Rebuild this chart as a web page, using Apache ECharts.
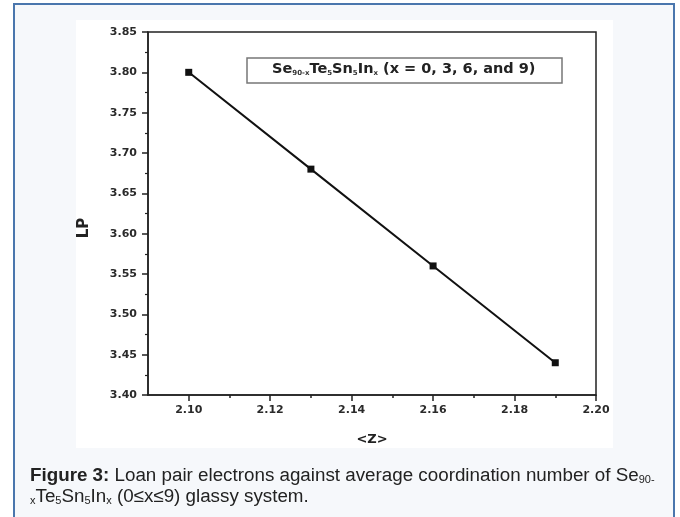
<!DOCTYPE html>
<html><head><meta charset="utf-8">
<script src="https://cdn.jsdelivr.net/npm/echarts@6/dist/echarts.min.js"></script>
<style>html,body{margin:0;padding:0;background:#fff}#c{width:680px;height:517px}</style>
</head><body><div id="c"></div>
<script>
const zValues = [2.10, 2.13, 2.16, 2.19];
const lpValues = [3.80, 3.68, 3.56, 3.44];
const xMajorTicks = [2.10, 2.12, 2.14, 2.16, 2.18, 2.20];
const xMinorTicks = [2.11, 2.13, 2.15, 2.17, 2.19];
const xLabel = '<Z>';
const yLabel = 'LP';

const chart = echarts.init(document.getElementById('c'), null, {renderer: 'canvas'});
const F = 'Liberation Sans, Arial, sans-serif';
const D = 'DejaVu Sans, sans-serif';
const tickFont = {fontFamily: D, fontWeight: 'bold', fontSize: 11, color: '#2a2a2a'};
const sub = {fontFamily: D, fontWeight: 'bold', fontSize: 7, color: '#333', lineHeight: 3, verticalAlign: 'bottom'};
const capSub = {fontFamily: F, fontWeight: 'normal', fontSize: 11, color: '#222', lineHeight: 3, verticalAlign: 'bottom'};

chart.setOption({
  animation: false,
  backgroundColor: '#ffffff',
  graphic: [
    {type: 'rect', z: -10, shape: {x: 14, y: 4, width: 660, height: 540},
     style: {fill: '#f6f8fb', stroke: '#4a76ad', lineWidth: 2}},
    {type: 'rect', z: -9, shape: {x: 76, y: 20, width: 537, height: 428},
     style: {fill: '#ffffff'}}
  ],
  title: [
    {
      left: 247, top: 55,
      padding: [4, 27, 6, 25],
      borderColor: '#777', borderWidth: 1.5, backgroundColor: '#fff',
      text: '{m|Se}{s|90-x}{m|Te}{s|5}{m|Sn}{s|5}{m|In}{s|x}{m| (x = 0, 3, 6, and 9)}',
      textStyle: {
        rich: {
          m: {fontFamily: D, fontWeight: 'bold', fontSize: 14.5, color: '#222', lineHeight: 18, verticalAlign: 'bottom'},
          s: sub
        }
      }
    },
    {
      left: 30, top: 464,
      padding: 0,
      text: '{b|Figure 3:}{n| Loan pair electrons against average coordination number of Se}{s|90-}\n{s|x}{n|Te}{s|5}{n|Sn}{s|5}{n|In}{s|x}{n| (0≤x≤9) glassy system.}',
      textStyle: {
        rich: {
          b: {fontFamily: F, fontWeight: 'bold', fontSize: 18.8, color: '#222', lineHeight: 21, verticalAlign: 'bottom'},
          n: {fontFamily: F, fontWeight: 'normal', fontSize: 18.8, color: '#222', lineHeight: 21, verticalAlign: 'bottom'},
          s: capSub
        }
      }
    }
  ],
  grid: {left: 148, right: 84, top: 32, bottom: 122, show: true, borderColor: '#222', borderWidth: 1.5, backgroundColor: 'transparent'},
  xAxis: [
    {
      type: 'value', min: 2.09, max: 2.20,
      name: xLabel, nameLocation: 'middle', nameGap: 38,
      nameTextStyle: {fontFamily: D, fontWeight: 'bold', fontSize: 13, color: '#222'},
      axisLine: {show: true, lineStyle: {color: '#222', width: 1.5}},
      axisTick: {show: true, inside: false, length: 6, lineStyle: {color: '#222', width: 1.5}, customValues: xMajorTicks},
      axisLabel: {show: true, margin: 10, ...tickFont, customValues: xMajorTicks, formatter: v => v.toFixed(2)},
      splitLine: {show: false}
    },
    {
      type: 'value', min: 2.09, max: 2.20, position: 'bottom', gridIndex: 0,
      axisLine: {show: false},
      axisTick: {show: true, inside: false, length: 3, lineStyle: {color: '#222', width: 1.5}, customValues: xMinorTicks},
      axisLabel: {show: false},
      splitLine: {show: false}
    }
  ],
  yAxis: {
    type: 'value', min: 3.40, max: 3.85, interval: 0.05,
    name: yLabel, nameLocation: 'middle', nameGap: 56, nameRotate: 90,
    nameTextStyle: {fontFamily: D, fontWeight: 'bold', fontSize: 15, color: '#222', padding: [0, 29, 0, 0]},
    axisLine: {show: true, lineStyle: {color: '#222', width: 1.5}},
    axisTick: {show: true, inside: false, length: 6, lineStyle: {color: '#222', width: 1.5}},
    minorTick: {show: true, splitNumber: 2, length: 3, lineStyle: {color: '#222', width: 1.2}},
    axisLabel: {margin: 11, ...tickFont, formatter: v => v.toFixed(2)},
    splitLine: {show: false}
  },
  series: [{
    type: 'line',
    xAxisIndex: 0,
    data: zValues.map((z, i) => [z, lpValues[i]]),
    symbol: 'rect', symbolSize: 7,
    itemStyle: {color: '#111'},
    lineStyle: {color: '#111', width: 2}
  }]
});
</script>
</body></html>
